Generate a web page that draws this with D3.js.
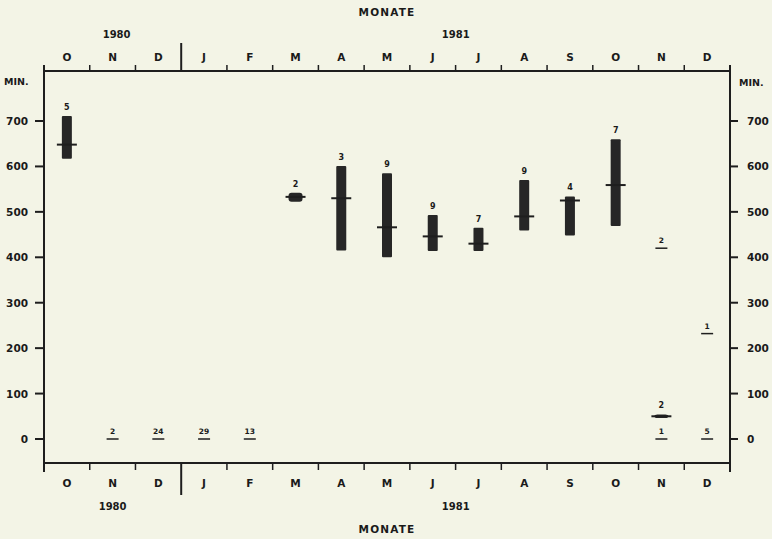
<!DOCTYPE html>
<html><head><meta charset="utf-8">
<script src="https://cdn.jsdelivr.net/npm/d3@7"></script>
<style>
html,body{margin:0;padding:0;background:#f3f4e6;}
svg{display:block;}
text{font-family:"DejaVu Sans",Arial,sans-serif;font-weight:bold;fill:#1a1a1a;}
</style></head>
<body>
<svg id="c" width="772" height="539"></svg>
<script>
// ---- data ----
const months = ["O","N","D","J","F","M","A","M","J","J","A","S","O","N","D"];
const yearLabels = ["1980","1981"];
const yearMonthIdx = [1, 8];          // month column where year label sits
const yTicks = [0,100,200,300,400,500,600,700];

// range bars (min–max with mean line)
const rangeMonth = [0, 5, 6, 7, 8, 9, 10, 11, 12, 13];
const rangeMin   = [617, 522, 415, 400, 414, 414, 459, 448, 469, 46];
const rangeMax   = [711, 542, 601, 585, 493, 465, 570, 534, 660, 54];
const rangeMean  = [648, 533, 530, 466, 446, 430, 490, 525, 559, 50];
const rangeN     = [5, 2, 3, 9, 9, 7, 9, 4, 7, 2];

// single-value markers
const lineMonth = [1, 2, 3, 4, 13, 13, 14, 14];
const lineValue = [0, 0, 0, 0, 420, 0, 232, 0];
const lineN     = [2, 24, 29, 13, 2, 1, 1, 5];

// ---- layout ----
const svg = d3.select("#c");
const L = 44, R = 730, T = 71, B = 463;
const x = d3.scaleBand().domain(d3.range(months.length)).range([L, R]).padding(0);
const y = d3.scaleLinear().domain([0, 700]).range([439, 121]);
const ink = "#1e1e1e";
const cx = i => x(i) + x.bandwidth() / 2;

// frame
const g = svg.append("g");
g.append("line").attr("x1", L).attr("x2", R).attr("y1", T).attr("y2", T).attr("stroke", ink).attr("stroke-width", 2);
g.append("line").attr("x1", L).attr("x2", R).attr("y1", B).attr("y2", B).attr("stroke", ink).attr("stroke-width", 2);
g.append("line").attr("x1", L).attr("x2", L).attr("y1", T - 6).attr("y2", B + 9).attr("stroke", ink).attr("stroke-width", 2);
g.append("line").attr("x1", R).attr("x2", R).attr("y1", T - 6).attr("y2", B + 9).attr("stroke", ink).attr("stroke-width", 2);

// month boundary ticks
const bounds = d3.range(1, months.length);
g.selectAll(".tt").data(bounds).join("line")
  .attr("x1", d => x(d)).attr("x2", d => x(d))
  .attr("y1", d => d === 3 ? 43 : T - 6).attr("y2", T)
  .attr("stroke", ink).attr("stroke-width", d => d === 3 ? 2 : 1.5);
g.selectAll(".bt").data(bounds).join("line")
  .attr("x1", d => x(d)).attr("x2", d => x(d))
  .attr("y1", B).attr("y2", d => d === 3 ? 495 : B + 7)
  .attr("stroke", ink).attr("stroke-width", d => d === 3 ? 2 : 1.5);

// month labels
g.selectAll(".ml").data(months).join("text")
  .attr("x", (d, i) => cx(i)).attr("y", 61).attr("text-anchor", "middle")
  .attr("font-size", 10.5).text(d => d);
g.selectAll(".mb").data(months).join("text")
  .attr("x", (d, i) => cx(i)).attr("y", 487).attr("text-anchor", "middle")
  .attr("font-size", 10.5).text(d => d);

// year labels
g.selectAll(".yt").data(yearLabels).join("text")
  .attr("x", (d, i) => cx(yearMonthIdx[i]) + (i === 0 ? 4 : 23)).attr("y", 38).attr("text-anchor", "middle")
  .attr("font-size", 10).attr("font-weight", "normal").text(d => d);
g.selectAll(".yb").data(yearLabels).join("text")
  .attr("x", (d, i) => cx(yearMonthIdx[i]) + (i === 0 ? 0 : 23)).attr("y", 510).attr("text-anchor", "middle")
  .attr("font-size", 10).attr("font-weight", "normal").text(d => d);

// title
g.append("text").attr("x", 387).attr("y", 16).attr("text-anchor", "middle").attr("font-size", 10.5)
  .attr("letter-spacing", 1.2).text("MONATE");
g.append("text").attr("x", 387).attr("y", 533).attr("text-anchor", "middle").attr("font-size", 10.5)
  .attr("letter-spacing", 1.2).text("MONATE");

// y axes
g.selectAll(".ly").data(yTicks).join("line")
  .attr("x1", L - 9).attr("x2", L).attr("y1", d => y(d)).attr("y2", d => y(d))
  .attr("stroke", ink).attr("stroke-width", 2);
g.selectAll(".lyt").data(yTicks).join("text")
  .attr("x", 28).attr("y", d => y(d) + 4).attr("text-anchor", "end")
  .attr("font-size", 10.5).text(d => d);
g.selectAll(".ry").data(yTicks).join("line")
  .attr("x1", R).attr("x2", R + 8).attr("y1", d => y(d)).attr("y2", d => y(d))
  .attr("stroke", ink).attr("stroke-width", 2);
g.selectAll(".ryt").data(yTicks).join("text")
  .attr("x", 747).attr("y", d => y(d) + 4).attr("text-anchor", "start")
  .attr("font-size", 10.5).text(d => d);
g.append("text").attr("x", 4).attr("y", 85).attr("font-size", 9.5).text("MIN.");
g.append("text").attr("x", 739).attr("y", 86).attr("font-size", 9.5).text("MIN.");

// range bars
const bw = 10, mw = 20;
const rg = g.append("g");
rangeMonth.forEach((m, i) => {
  const c = cx(m);
  const small = rangeMax[i] - rangeMin[i] < 30;
  rg.append("rect").attr("x", c - (small ? 7 : bw / 2)).attr("width", small ? 14 : bw)
    .attr("y", y(rangeMax[i])).attr("height", y(rangeMin[i]) - y(rangeMax[i]))
    .attr("rx", small ? 3 : 1).attr("fill", "#262626");
  rg.append("line").attr("x1", c - mw / 2).attr("x2", c + mw / 2)
    .attr("y1", y(rangeMean[i])).attr("y2", y(rangeMean[i]))
    .attr("stroke", ink).attr("stroke-width", 2);
  rg.append("text").attr("x", c).attr("y", y(rangeMax[i]) - 6).attr("text-anchor", "middle")
    .attr("font-size", 8).text(rangeN[i]);
});

// single-value markers
lineMonth.forEach((m, i) => {
  const c = cx(m);
  rg.append("line").attr("x1", c - 6).attr("x2", c + 6)
    .attr("y1", y(lineValue[i])).attr("y2", y(lineValue[i]))
    .attr("stroke", ink).attr("stroke-width", 1.5);
  rg.append("text").attr("x", c).attr("y", y(lineValue[i]) - 5).attr("text-anchor", "middle")
    .attr("font-size", 7.5).text(lineN[i]);
});
</script>
</body></html>
